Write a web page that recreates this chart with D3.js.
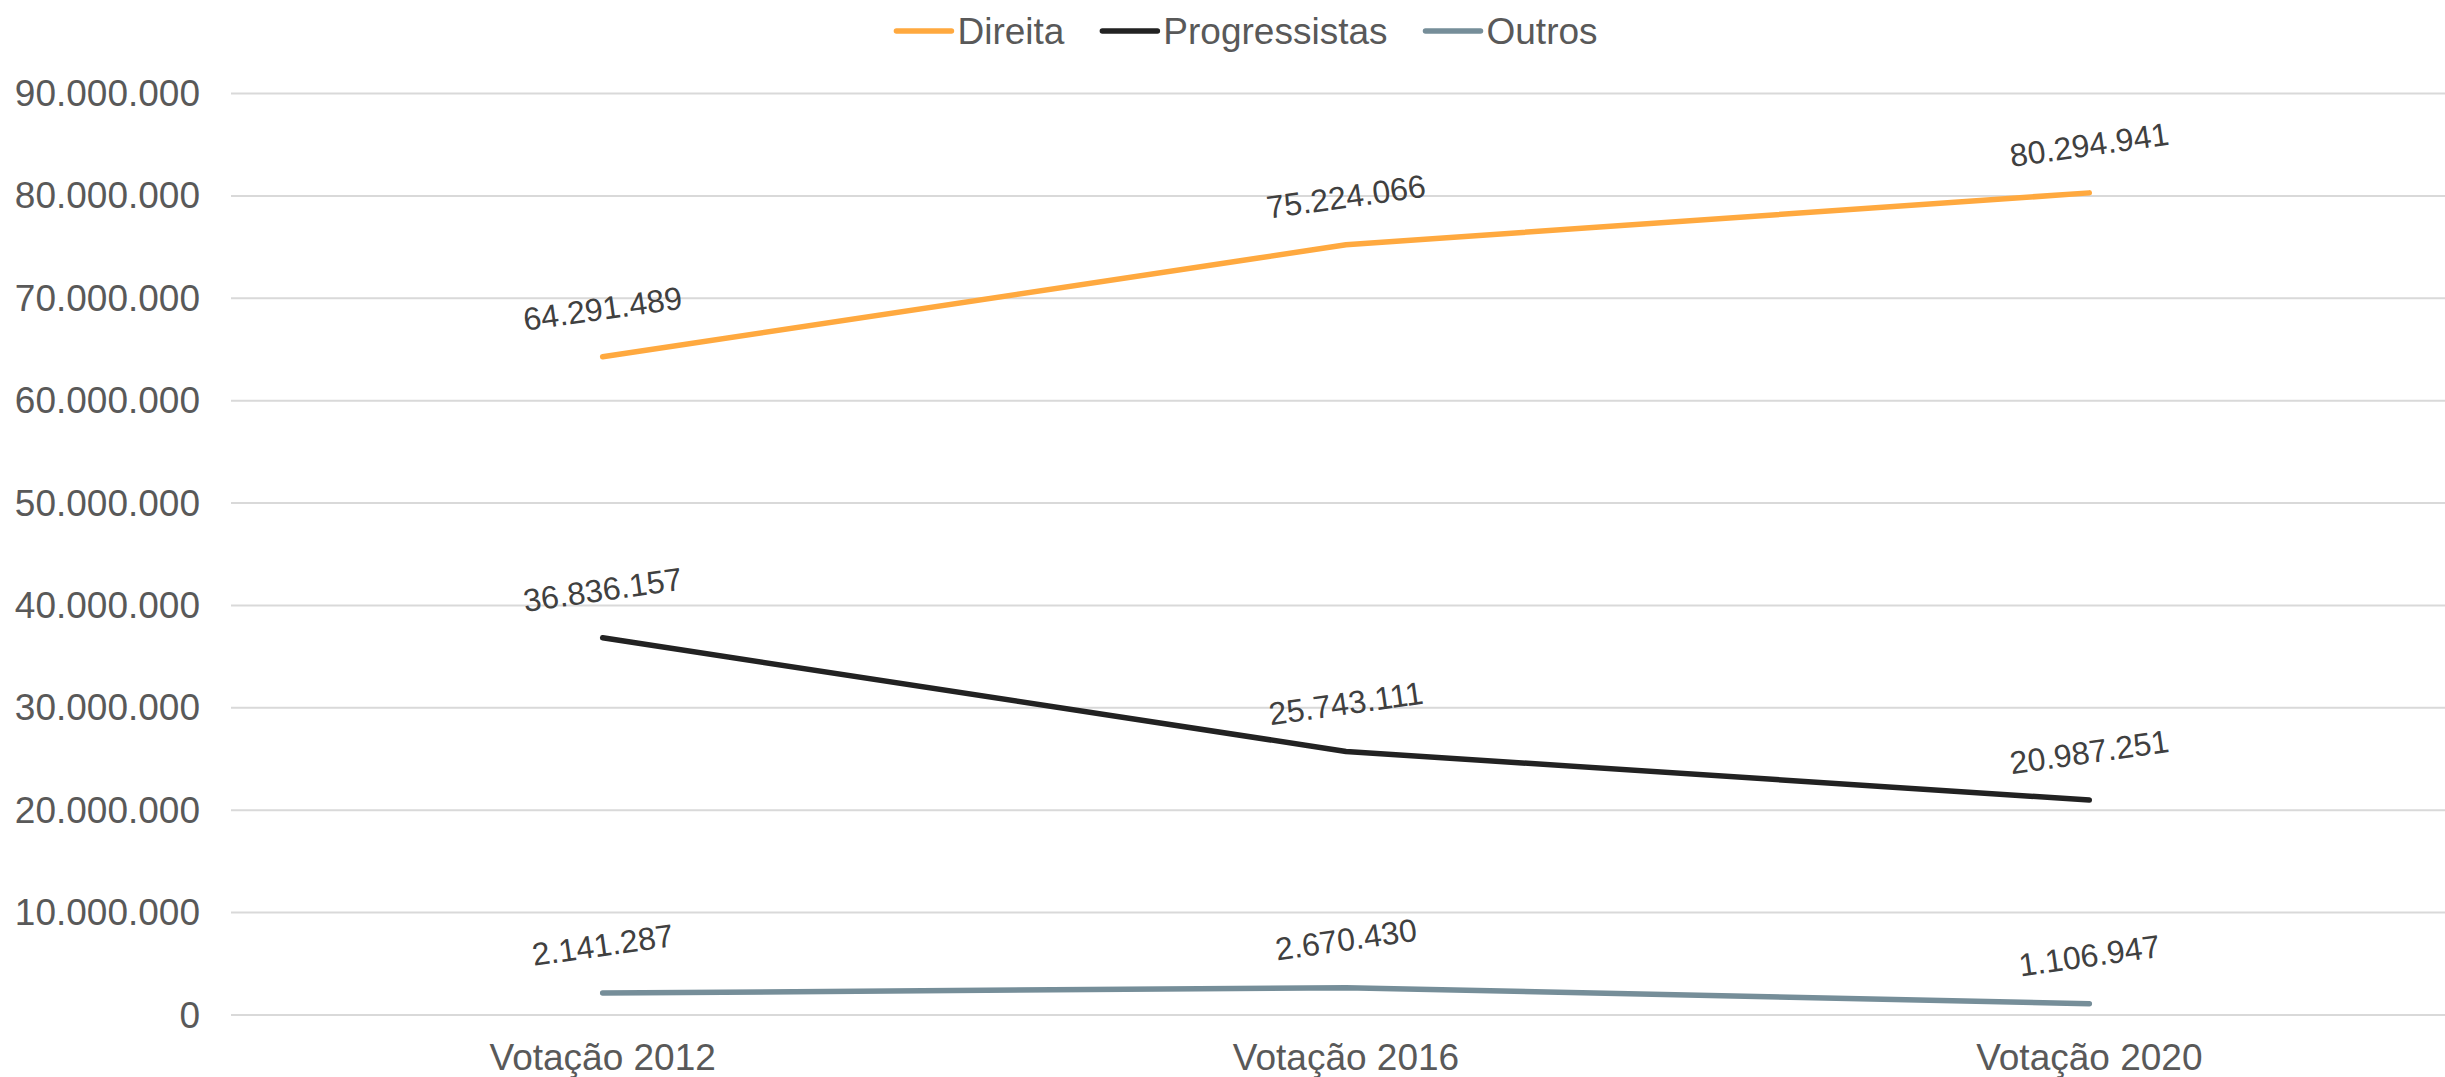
<!DOCTYPE html>
<html>
<head>
<meta charset="utf-8">
<script src="https://cdn.jsdelivr.net/npm/d3@7"></script>
<style>
  html, body { margin: 0; padding: 0; background: #ffffff; }
  svg { display: block; font-family: "Liberation Sans", Arial, sans-serif; }
</style>
</head>
<body>
<svg id="chart" width="2445" height="1077"></svg>
<script>
// Votes by political bloc in municipal elections
const categories = ["Votação 2012", "Votação 2016", "Votação 2020"];
const direita = [64291489, 75224066, 80294941];
const progressistas = [36836157, 25743111, 20987251];
const outros = [2141287, 2670430, 1106947];
const seriesNames = ["Direita", "Progressistas", "Outros"];
const seriesColors = ["#FFA93F", "#222222", "#768E99"];
const yTicks = [0, 10000000, 20000000, 30000000, 40000000, 50000000, 60000000, 70000000, 80000000, 90000000];

const series = [direita, progressistas, outros].map((values, i) => ({
  name: seriesNames[i],
  color: seriesColors[i],
  values: values
}));

const svg = d3.select("#chart");
const W = 2445, H = 1077;
const plot = { left: 231, right: 2461, top: 93.5, bottom: 1015 };

const x = d3.scalePoint()
  .domain(categories)
  .range([plot.left, plot.right])
  .padding(0.5);

const y = d3.scaleLinear()
  .domain([0, 90000000])
  .range([plot.bottom, plot.top]);

const fmt = d3.formatLocale({ decimal: ",", thousands: ".", grouping: [3], currency: ["", ""] }).format(",d");

// horizontal gridlines
svg.append("g")
  .selectAll("line")
  .data(yTicks)
  .join("line")
  .attr("x1", plot.left)
  .attr("x2", W)
  .attr("y1", d => y(d))
  .attr("y2", d => y(d))
  .attr("stroke", "#D9D9D9")
  .attr("stroke-width", 2);

// y axis labels
svg.append("g")
  .selectAll("text")
  .data(yTicks)
  .join("text")
  .attr("x", 200)
  .attr("y", d => y(d))
  .attr("text-anchor", "end")
  .attr("dominant-baseline", "central")
  .attr("font-size", 37)
  .attr("fill", "#595959")
  .text(d => fmt(d));

// x axis labels
svg.append("g")
  .selectAll("text")
  .data(categories)
  .join("text")
  .attr("x", d => x(d))
  .attr("y", 1070)
  .attr("text-anchor", "middle")
  .attr("font-size", 37)
  .attr("fill", "#595959")
  .text(d => d);

// lines
const line = d3.line()
  .x((d, i) => x(categories[i]))
  .y(d => y(d));

svg.append("g")
  .selectAll("path")
  .data(series)
  .join("path")
  .attr("d", d => line(d.values))
  .attr("fill", "none")
  .attr("stroke", d => d.color)
  .attr("stroke-width", 5.5)
  .attr("stroke-linecap", "round")
  .attr("stroke-linejoin", "round");

// value labels, tilted slightly
const labels = svg.append("g");
series.forEach(s => {
  s.values.forEach((v, i) => {
    const cx = x(categories[i]);
    const cy = y(v) - 48;
    labels.append("text")
      .attr("transform", `translate(${cx},${cy}) rotate(-8)`)
      .attr("text-anchor", "middle")
      .attr("dominant-baseline", "central")
      .attr("font-size", 32)
      .attr("fill", "#404040")
      .text(fmt(v));
  });
});

// legend
const legend = svg.append("g");
const lineLen = 55, lineGap = 6, itemGap = 38, legendY = 31;
let cursor = 0;
const items = series.map(s => {
  const g = legend.append("g");
  g.append("line")
    .attr("x1", 0).attr("x2", lineLen)
    .attr("y1", legendY).attr("y2", legendY)
    .attr("stroke", s.color)
    .attr("stroke-width", 5.5)
    .attr("stroke-linecap", "round");
  const t = g.append("text")
    .attr("x", lineLen + lineGap)
    .attr("y", legendY)
    .attr("dominant-baseline", "central")
    .attr("font-size", 37)
    .attr("fill", "#595959")
    .text(s.name);
  const w = lineLen + lineGap + t.node().getComputedTextLength();
  g.attr("transform", `translate(${cursor},0)`);
  cursor += w + itemGap;
  return g;
});
const totalW = cursor - itemGap;
legend.attr("transform", `translate(${1247 - totalW / 2},0)`);
</script>
</body>
</html>
